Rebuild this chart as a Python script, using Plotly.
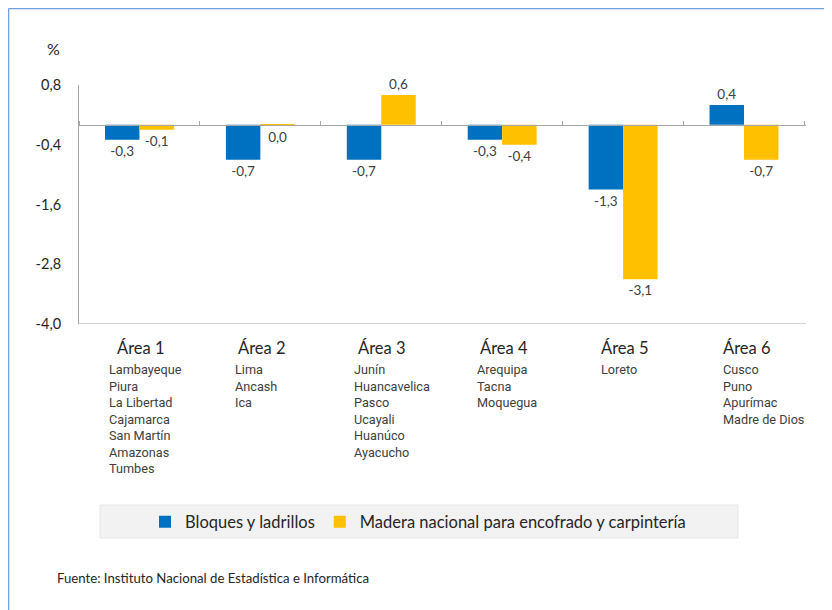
import plotly.graph_objects as go

areas = ["Área 1", "Área 2", "Área 3", "Área 4", "Área 5", "Área 6"]
regions = [
    ["Lambayeque", "Piura", "La Libertad", "Cajamarca", "San Martín", "Amazonas", "Tumbes"],
    ["Lima", "Ancash", "Ica"],
    ["Junín", "Huancavelica", "Pasco", "Ucayali", "Huanúco", "Ayacucho"],
    ["Arequipa", "Tacna", "Moquegua"],
    ["Loreto"],
    ["Cusco", "Puno", "Apurímac", "Madre de Dios"],
]
bloques = [-0.3, -0.7, -0.7, -0.3, -1.3, 0.4]
madera = [-0.1, -0.02, 0.6, -0.4, -3.1, -0.7]
series_names = ["Bloques y ladrillos", "Madera nacional para encofrado y carpintería"]
ytick_vals = [0.8, -0.4, -1.6, -2.8, -4.0]
source_text = "Fuente: Instituto Nacional de Estadística e Informática"

BLUE = "#0070C0"
YELLOW = "#FFC000"
AXIS = "#A6A6A6"
TXT = "#404040"
CAL = "Lato, 'Open Sans', sans-serif"
NARROW = "'Liberation Sans Narrow', 'Arial Narrow', Roboto, sans-serif"

# horizontal offsets (px) of the label blocks relative to category centre
head_shift = [-24, -24, -25, -24, -24, -23]
list_shift = [-32, -27, -29, -27, -24, -23]

def fmt(v):
    s = f"{v:.1f}"
    if s == "-0.0":
        s = "0.0"
    return s.replace(".", ",")

W, H = 832, 610
OFF = 8  # page body offset
L, T = 79 - OFF, 85 - OFF
R = W - (806 - OFF)
B = H - (324 - OFF)
pw, ph = W - L - R, H - T - B
def px(x):
    return (x - OFF - L) / pw
def py(y):
    return (H - B - (y - OFF)) / ph

ymin, ymax = -4.0, 0.8

fig = go.Figure()
for name, vals, col in [(series_names[0], bloques, BLUE), (series_names[1], madera, YELLOW)]:
    fig.add_trace(go.Bar(
        x=areas, y=vals, name=name, marker=dict(color=col, line=dict(width=0)),
        text=[fmt(v) for v in vals], textposition="outside", constraintext="none",
        textfont=dict(family=CAL, size=13.5, color=TXT), cliponaxis=False,
    ))

annotations = []
for a, regs, hs, ls in zip(areas, regions, head_shift, list_shift):
    annotations.append(dict(
        x=a, xref="x", y=py(348), yref="paper", text=a, showarrow=False,
        xanchor="left", yanchor="middle", xshift=hs,
        font=dict(family=CAL, size=16.5, color="#262626"),
    ))
    annotations.append(dict(
        x=a, xref="x", y=py(360), yref="paper", text="<br>".join(regs), showarrow=False,
        xanchor="left", yanchor="top", xshift=ls, align="left",
        font=dict(family=NARROW, size=12.7, color=TXT),
    ))
annotations.append(dict(
    x=px(45), xref="paper", y=py(48), yref="paper", text="%", showarrow=False,
    xanchor="left", yanchor="middle", font=dict(family=CAL, size=16, color="#262626"),
))
annotations.append(dict(
    x=px(55), xref="paper", y=py(578), yref="paper", text=source_text, showarrow=False,
    xanchor="left", yanchor="middle", font=dict(family=CAL, size=13.2, color="#262626"),
))

shapes = [
    dict(type="rect", xref="paper", yref="paper", x0=px(100), x1=px(738), y0=py(538), y1=py(505),
         fillcolor="#F2F2F2", line=dict(color="#E6E6E6", width=1), layer="below"),
    dict(type="line", xref="paper", yref="y", x0=0, x1=1, y0=ymin, y1=ymin,
         line=dict(color=AXIS, width=1)),
    dict(type="line", xref="paper", yref="paper", x0=px(8.5), x1=px(8.5), y0=py(640), y1=py(8.5),
         line=dict(color="#6FA0DC", width=1.5)),
    dict(type="line", xref="paper", yref="paper", x0=px(8.5), x1=px(860), y0=py(8.5), y1=py(8.5),
         line=dict(color="#6FA0DC", width=1.5)),
]

fig.update_layout(
    width=W, height=H,
    margin=dict(l=L, r=R, t=T, b=B),
    paper_bgcolor="white", plot_bgcolor="white",
    barmode="group", bargap=0.43, bargroupgap=0,
    separators=",.",
    showlegend=True,
    legend=dict(orientation="h", x=px(418), xanchor="center", y=py(522), yanchor="middle",
                bgcolor="rgba(0,0,0,0)", font=dict(family=CAL, size=16.5, color="#262626"),
                itemwidth=30, tracegroupgap=0),
    xaxis=dict(
        type="category", anchor="free", position=(0 - ymin) / (ymax - ymin), side="top",
        showline=True, linecolor=AXIS, linewidth=1,
        ticks="outside", tickson="boundaries", ticklen=4, tickcolor=AXIS,
        showticklabels=False, showgrid=False, zeroline=False,
    ),
    yaxis=dict(
        range=[ymin, ymax], tickvals=ytick_vals, ticktext=[fmt(v) for v in ytick_vals],
        showline=True, linecolor=AXIS, linewidth=1, ticks="", showgrid=False, zeroline=False,
        tickfont=dict(family=CAL, size=14.5, color="#262626"), ticklabelstandoff=14,
    ),
    annotations=annotations,
    shapes=shapes,
)

fig.write_html("out.html")
